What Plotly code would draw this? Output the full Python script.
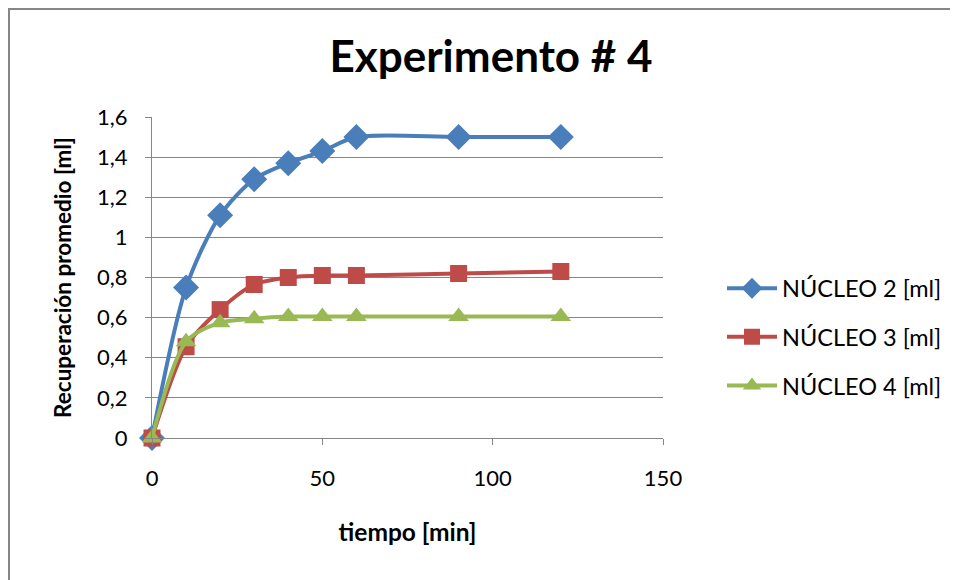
import plotly.graph_objects as go

tiempo = [0, 10, 20, 30, 40, 50, 60, 90, 120]
nucleo2 = [0, 0.75, 1.11, 1.29, 1.37, 1.43, 1.50, 1.50, 1.50]
nucleo3 = [0, 0.455, 0.64, 0.765, 0.80, 0.81, 0.81, 0.82, 0.83]
nucleo4 = [0, 0.48, 0.575, 0.595, 0.605, 0.605, 0.605, 0.605, 0.605]
series_names = ["NÚCLEO 2 [ml]", "NÚCLEO 3 [ml]", "NÚCLEO 4 [ml]"]
y_ticks = [0, 0.2, 0.4, 0.6, 0.8, 1.0, 1.2, 1.4, 1.6]
y_ticklabels = ["0", "0,2", "0,4", "0,6", "0,8", "1", "1,2", "1,4", "1,6"]
x_ticks = [0, 50, 100, 150]

FONT = "Lato"
colors = ["#4A7EBB", "#BE4B48", "#98B954"]
symbols = ["diamond", "square", "triangle-up"]
sizes = [20, 17, 18]

# page has an 8px body margin: figure drawn at page (8,8)
W, H = 950, 572
L, T = 144, 109          # plot area left/top in figure px
PW, PH = 511, 321        # plot area size
R, B = W - L - PW, H - T - PH

fig = go.Figure()
for i, (name, ys) in enumerate(zip(series_names, [nucleo2, nucleo3, nucleo4])):
    fig.add_trace(go.Scatter(
        x=tiempo, y=ys, name=name, mode="lines+markers",
        legendgroup=f"g{i}", cliponaxis=False,
        line=dict(color=colors[i], width=4, shape="spline", smoothing=0.8),
        marker=dict(symbol=symbols[i], size=sizes[i], color=colors[i]),
    ))

fig.update_layout(
    width=W, height=H,
    margin=dict(l=L, r=R, t=T, b=B, autoexpand=False),
    paper_bgcolor="white", plot_bgcolor="white",
    font=dict(family=FONT, color="black"),
    title=dict(text="<b>Experimento # 4</b>", x=483 / W, xanchor="center",
               xref="container", y=1 - 49 / H, yanchor="middle",
               font=dict(size=44, family=FONT, color="black")),
    showlegend=True,
    legend=dict(x=(714 - L) / PW, xanchor="left", y=(T + PH - 329) / PH, yanchor="middle",
                font=dict(size=23.5, family=FONT, color="black"),
                itemwidth=50, tracegroupgap=15, bgcolor="rgba(0,0,0,0)"),
    xaxis=dict(range=[0, 150], tickvals=x_ticks, showgrid=False,
               showline=True, linecolor="#868686", linewidth=1,
               ticks="outside", ticklen=6, tickcolor="#868686",
               tickfont=dict(size=22, family=FONT), zeroline=False,
               ticklabelstandoff=15,
               title=dict(text="<b>tiempo [min]</b>", font=dict(size=24.5, family=FONT),
                          standoff=33)),
    yaxis=dict(range=[0, 1.6], tickvals=y_ticks, ticktext=y_ticklabels,
               showgrid=True, gridcolor="#868686", gridwidth=1,
               showline=True, linecolor="#868686", linewidth=1,
               ticks="outside", ticklen=6, tickcolor="#868686",
               tickfont=dict(size=22, family=FONT), zeroline=False,
               ticklabelstandoff=13,
               title=dict(text="<b>Recuperación promedio [ml]</b>",
                          font=dict(size=22.5, family=FONT), standoff=19)),
)

# chart outer border (Excel chart area)
fig.add_shape(type="rect", xref="paper", yref="paper",
              x0=(1 - L) / PW, x1=(W + 10 - L) / PW,
              y0=(T + PH - (H + 10)) / PH, y1=(T + PH - 1) / PH,
              line=dict(color="#868686", width=2), fillcolor="rgba(0,0,0,0)",
              layer="below")

fig.write_html("out.html")
